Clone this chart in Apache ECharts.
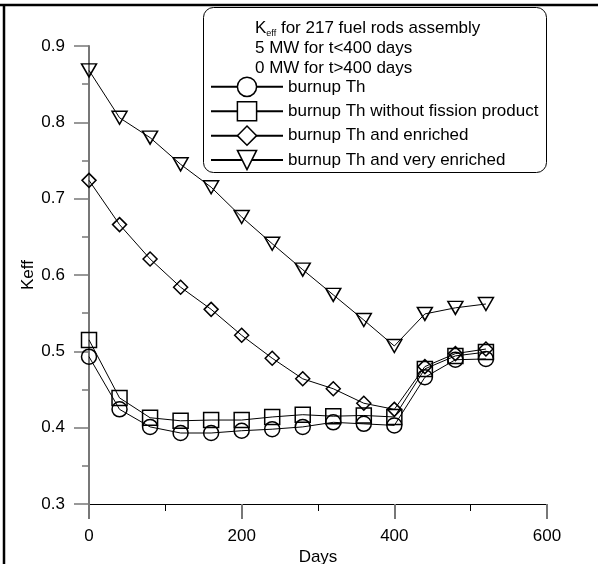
<!DOCTYPE html>
<html><head><meta charset="utf-8">
<script src="https://cdn.jsdelivr.net/npm/echarts@6/dist/echarts.min.js"></script>
<style>html,body{margin:0;padding:0;background:#fff}#c{width:599px;height:564px}</style>
</head><body><div id="c"></div>
<script>
const days = [0,40,80,120,160,200,240,280,320,360,400,440,480,520];
const burnupTh = [0.493,0.424,0.401,0.393,0.393,0.396,0.398,0.401,0.407,0.405,0.403,0.466,0.489,0.490];
const burnupNoFP = [0.515,0.439,0.413,0.409,0.410,0.410,0.414,0.417,0.415,0.416,0.414,0.477,0.494,0.499];
const burnupEnriched = [0.724,0.666,0.621,0.584,0.555,0.521,0.491,0.464,0.451,0.432,0.424,0.480,0.497,0.503];
const burnupVeryEnriched = [0.868,0.806,0.780,0.745,0.715,0.676,0.641,0.607,0.574,0.541,0.507,0.549,0.557,0.562];
const seriesNames = ['burnup Th','burnup Th without fission product','burnup Th and enriched','burnup Th and very enriched'];
const titleLines = ['K{sub|eff} for 217 fuel rods assembly','5 MW for t<400 days','0 MW for t>400 days'];
const xName = 'Days', yName = 'Keff';

const FONT = '"Liberation Sans", Arial, sans-serif';
function pts(vals){ return days.map((d,i)=>[d, vals[i]]); }
function mk(name, vals, symbol, size, rotate){
  return {
    name, type:'line', data: pts(vals), symbol, symbolSize: size, symbolRotate: rotate||0,
    showSymbol:true,
    lineStyle:{color:'#000', width:1},
    itemStyle:{color:'rgba(255,255,255,0)', borderColor:'#000', borderWidth:1.5},
    emphasis:{disabled:true}, animation:false, z:3
  };
}
const chart = echarts.init(document.getElementById('c'), null, {renderer:'canvas'});
chart.setOption({
  backgroundColor:'#fff',
  animation:false,
  textStyle:{fontFamily:FONT},
  grid:{left:89, right:52, top:46, bottom:60, outerBoundsMode:'none'},
  title:{
    text: titleLines.join('\n'), left:250, top:13,
    textStyle:{fontFamily:FONT, fontSize:17, fontWeight:'normal', color:'#000', lineHeight:20,
      rich:{sub:{fontSize:9, fontFamily:FONT, verticalAlign:'bottom', lineHeight:20, padding:[6,0,0,0]}}}
  },
  legend:{
    orient:'vertical', left:210, top:76.5, itemWidth:72, itemHeight:24, itemGap:3.7,
    padding:0, selectedMode:false,
    textStyle:{fontFamily:FONT, fontSize:17, color:'#000'},
    data: seriesNames.map(n=>({name:n, itemStyle:{color:'#fff', borderColor:'#000', borderWidth:1.5}}))
  },
  xAxis:{
    type:'value', min:0, max:600, interval:200,
    name:xName, nameLocation:'middle', nameGap:45, nameMoveOverlap:false,
    nameTextStyle:{fontFamily:FONT, fontSize:17, color:'#000'},
    axisLine:{onZero:false, lineStyle:{color:'#000', width:1}},
    axisTick:{show:true, length:15, lineStyle:{color:'#777', width:2}},
    minorTick:{show:true, splitNumber:2, length:7, lineStyle:{color:'#000', width:1}},
    axisLabel:{fontFamily:FONT, fontSize:17, color:'#000', margin:24},
    splitLine:{show:false}
  },
  yAxis:{
    type:'value', min:0.3, max:0.9, interval:0.1,
    name:yName, nameLocation:'middle', nameGap:52, nameRotate:90, nameMoveOverlap:false,
    nameTextStyle:{fontFamily:FONT, fontSize:17, color:'#000'},
    axisLine:{onZero:false, lineStyle:{color:'#777', width:2}},
    axisTick:{show:true, length:15, lineStyle:{color:'#777', width:1.5}},
    minorTick:{show:true, splitNumber:2, length:7, lineStyle:{color:'#777', width:1.5}},
    axisLabel:{fontFamily:FONT, fontSize:17, color:'#000', margin:24, formatter:v=>v.toFixed(1)},
    splitLine:{show:false}
  },
  graphic:[
    {type:'line', shape:{x1:0,y1:5,x2:598,y2:5}, style:{stroke:'#000', lineWidth:2.5}, silent:true},
    {type:'line', shape:{x1:4,y1:5,x2:4,y2:564}, style:{stroke:'#000', lineWidth:2.5}, silent:true},
    {type:'rect', shape:{x:203.5,y:7.5,width:343,height:165,r:10}, style:{fill:'none', stroke:'#000', lineWidth:1}, silent:true, z:-1}
  ],
  series:[
    mk(seriesNames[0], burnupTh, 'circle', 15),
    mk(seriesNames[1], burnupNoFP, 'rect', 15),
    mk(seriesNames[2], burnupEnriched, 'diamond', 14),
    mk(seriesNames[3], burnupVeryEnriched, 'triangle', [15,13], 180)
  ]
});
</script></body></html>
